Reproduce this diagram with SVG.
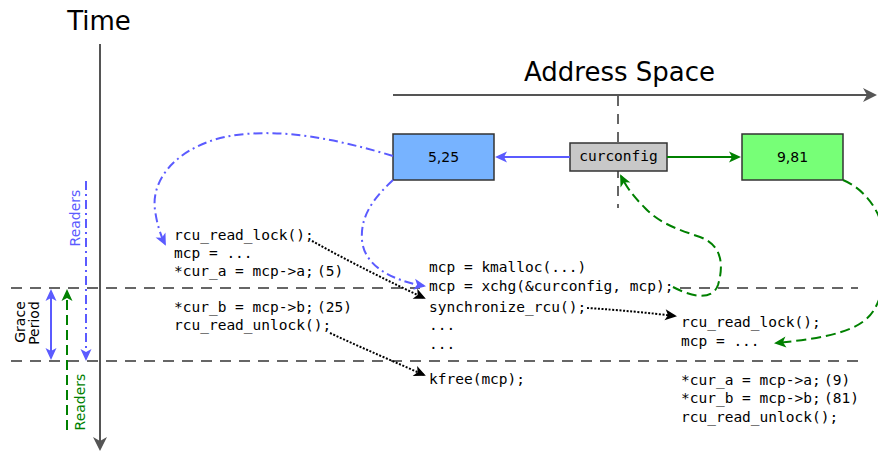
<svg xmlns="http://www.w3.org/2000/svg" width="878" height="454" viewBox="0 0 878 454">
<style>
.lbl{font-family:"DejaVu Sans","Liberation Sans",sans-serif}
.code{font-family:"DejaVu Sans Mono","Liberation Mono",monospace;font-size:14.5px;fill:#000}
.box{stroke:#333;stroke-width:1.5}
.sep{fill:none;stroke:#666;stroke-width:1.8;stroke-dasharray:11,8}
.dot{fill:none;stroke:#000;stroke-width:2;stroke-dasharray:2,1.6}
.bdd{fill:none;stroke:#5b5bff;stroke-width:2;stroke-dasharray:9,4,2,4}
.gd{fill:none;stroke:#008000;stroke-width:2;stroke-dasharray:10,5}
</style>
<defs>
<marker id="mg" viewBox="-12 -8 16 16" refX="0" refY="0" markerWidth="16" markerHeight="16" markerUnits="userSpaceOnUse" orient="auto"><path d="M3,0 L-11,-7 L-7,0 L-11,7Z" fill="#555"/></marker>
<marker id="mb" viewBox="-12 -6 15 12" refX="0" refY="0" markerWidth="15" markerHeight="12" markerUnits="userSpaceOnUse" orient="auto-start-reverse"><path d="M2,0 L-10,-5.5 L-7,0 L-10,5.5Z" fill="#5b5bff"/></marker>
<marker id="mgr" viewBox="-12 -6 15 12" refX="0" refY="0" markerWidth="15" markerHeight="12" markerUnits="userSpaceOnUse" orient="auto"><path d="M2,0 L-10,-5.5 L-7,0 L-10,5.5Z" fill="#008000"/></marker>
<marker id="mk" viewBox="-12 -6 15 12" refX="0" refY="0" markerWidth="15" markerHeight="12" markerUnits="userSpaceOnUse" orient="auto"><path d="M2,0 L-10,-5.5 L-7,0 L-10,5.5Z" fill="#000"/></marker>
</defs>

<g id="axes">
<text class="lbl" x="99" y="30" font-size="26" text-anchor="middle" fill="#000">Time</text>
<line x1="100" y1="44" x2="100" y2="448" stroke="#555" stroke-width="2" marker-end="url(#mg)"/>
<text class="lbl" x="619.5" y="81" font-size="26" text-anchor="middle" fill="#000">Address Space</text>
<line x1="393" y1="95" x2="874" y2="95" stroke="#555" stroke-width="2" marker-end="url(#mg)"/>
<line x1="618" y1="96" x2="618" y2="208" stroke="#555" stroke-width="1.8" stroke-dasharray="10,8"/>
</g>

<g id="separators">
<line class="sep" x1="11" y1="288" x2="420" y2="288"/>
<line class="sep" x1="680" y1="288" x2="858" y2="288"/>
<line class="sep" x1="11" y1="361" x2="866" y2="361"/>
</g>

<g id="legend">
<line x1="51" y1="291" x2="51" y2="358" stroke="#5b5bff" stroke-width="2" marker-start="url(#mb)" marker-end="url(#mb)"/>
<line x1="67" y1="430" x2="67" y2="291" class="gd" marker-end="url(#mgr)"/>
<line x1="86" y1="181" x2="86" y2="359" class="bdd" marker-end="url(#mb)"/>
<text class="lbl" font-size="14" fill="#5b5bff" text-anchor="middle" transform="translate(79.5,218) rotate(-90)">Readers</text>
<text class="lbl" font-size="14" fill="#008000" text-anchor="middle" transform="translate(85,402) rotate(-90)">Readers</text>
<text class="lbl" font-size="14" fill="#000" text-anchor="middle" transform="translate(25,322) rotate(-90)">Grace</text>
<text class="lbl" font-size="14" fill="#000" text-anchor="middle" transform="translate(39,323) rotate(-90)">Period</text>
</g>

<g id="node-old">
<rect class="box" x="393" y="134" width="101" height="46" fill="#77b3ff"/>
<text class="lbl" x="443.5" y="162" font-size="14" text-anchor="middle" fill="#000">5,25</text>
</g>
<g id="node-curconfig">
<rect class="box" x="570" y="143" width="97" height="28" fill="#c8c8c8"/>
<text class="code" x="618.5" y="161" text-anchor="middle">curconfig</text>
</g>
<g id="node-new">
<rect class="box" x="742" y="134" width="101" height="46" fill="#77ff77"/>
<text class="lbl" x="792.5" y="162" font-size="14" text-anchor="middle" fill="#000">9,81</text>
</g>

<g id="reader1">
<text class="code" x="174" y="240">rcu_read_lock();</text>
<text class="code" x="174" y="258">mcp = ...</text>
<text class="code" x="174" y="276">*cur_a = mcp-&gt;a;<tspan x="317">(5)</tspan></text>
<text class="code" x="174" y="312">*cur_b = mcp-&gt;b;<tspan x="317">(25)</tspan></text>
<text class="code" x="174" y="330">rcu_read_unlock();</text>
</g>

<g id="updater">
<text class="code" x="429" y="272">mcp = kmalloc(...)</text>
<text class="code" x="429" y="291">mcp = xchg(&amp;curconfig, mcp);</text>
<text class="code" x="429" y="312">synchronize_rcu();</text>
<text class="code" x="429" y="330">...</text>
<text class="code" x="429" y="349">...</text>
<text class="code" x="429" y="384">kfree(mcp);</text>
</g>

<g id="reader2">
<text class="code" x="681" y="327">rcu_read_lock();</text>
<text class="code" x="681" y="346">mcp = ...</text>
<text class="code" x="681" y="385">*cur_a = mcp-&gt;a;<tspan x="824">(9)</tspan></text>
<text class="code" x="681" y="403">*cur_b = mcp-&gt;b;<tspan x="824">(81)</tspan></text>
<text class="code" x="681" y="422">rcu_read_unlock();</text>
</g>

<g id="connectors">
<line x1="570" y1="157" x2="497" y2="157" stroke="#5b5bff" stroke-width="2" marker-end="url(#mb)"/>
<line x1="667" y1="157" x2="739" y2="157" stroke="#008000" stroke-width="2" marker-end="url(#mgr)"/>
<path class="bdd" d="M393,156 C340,140 290,130 245,134 C185,139 150,175 155,210 C157,225 161,236 165,244" marker-end="url(#mb)"/>
<path class="bdd" d="M393,180 C375,197 360,215 362,240 C364,265 390,280 424,286" marker-end="url(#mb)"/>
<path class="gd" d="M673,287 C690,296 712,302 718,285 C724,265 722,245 700,237 C680,230 660,224 645,208 C632,195 626,186 621,176" marker-end="url(#mgr)"/>
<path class="gd" d="M843,180 C862,188 876,205 882,225 C890,255 886,290 874,310 C862,330 830,338 776,343" marker-end="url(#mgr)"/>
<path class="dot" d="M312,241 C350,262 390,282 424,298" marker-end="url(#mk)"/>
<path class="dot" d="M587,308 C620,310 650,313 675,316" marker-end="url(#mk)"/>
<path class="dot" d="M330,333 C362,348 395,362 424,375" marker-end="url(#mk)"/>
</g>
</svg>
